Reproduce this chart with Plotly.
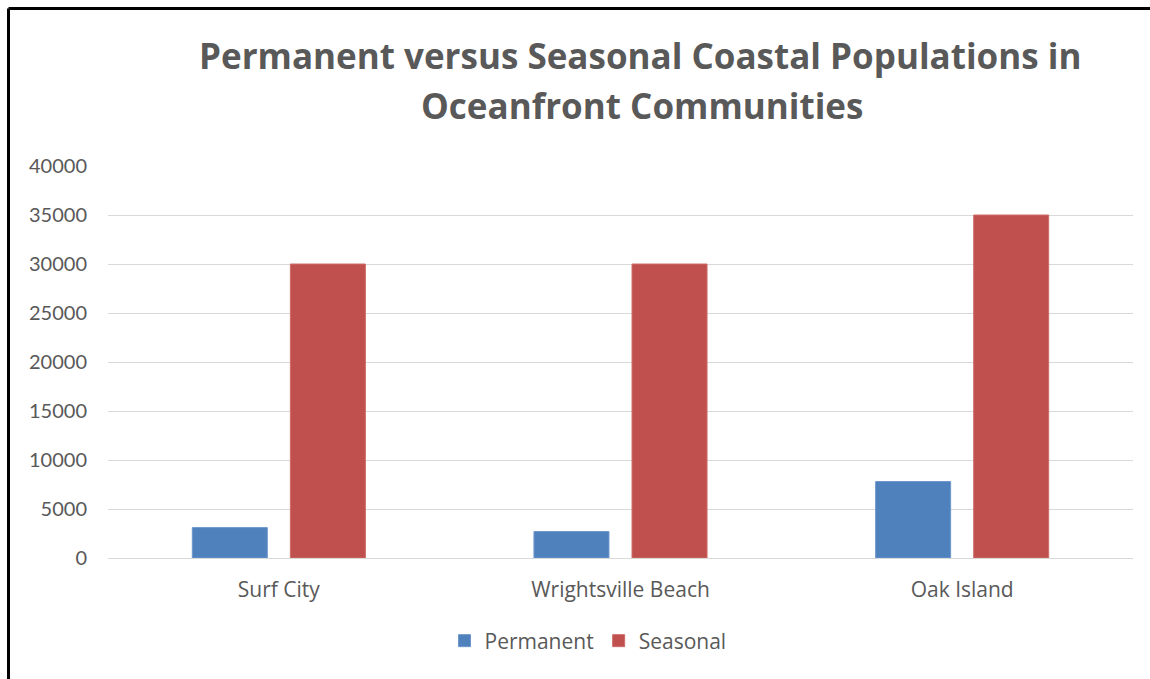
import plotly.graph_objects as go

# Data
communities = ["Surf City", "Wrightsville Beach", "Oak Island"]
permanent = [3100, 2700, 7800]
seasonal = [30000, 30000, 35000]
y_ticks = [0, 5000, 10000, 15000, 20000, 25000, 30000, 35000, 40000]

title_lines = ["Permanent versus Seasonal Coastal Populations in",
               "Oceanfront Communities"]

TEXT = "#595959"
BLUE = "#4F81BD"
RED = "#C0504D"
GRID = "#D9D9D9"

# plot area in pixels
L, R, T, B = 108, 1133, 166, 558
W, H = R - L, B - T


def px_x(x):
    return (x - L) / W


def px_y(y):
    return (B - y) / H


fig = go.Figure()
fig.add_trace(go.Bar(
    name="Permanent", x=communities, y=permanent,
    marker=dict(color=BLUE, line=dict(color="#6E97CC", width=1)),
))
fig.add_trace(go.Bar(
    name="Seasonal", x=communities, y=seasonal,
    marker=dict(color=RED, line=dict(color="#CD6C69", width=1)),
))

fig.update_layout(
    width=1150, height=679,
    margin=dict(l=L, r=1150 - R, t=T, b=679 - B),
    paper_bgcolor="white", plot_bgcolor="white",
    barmode="group", bargap=0.426, bargroupgap=0.235,
    font=dict(family="Open Sans, sans-serif", color=TEXT, size=21),
    showlegend=True,
    legend=dict(
        orientation="h", x=px_x(588), xanchor="center", xref="paper",
        y=px_y(641), yanchor="middle",
        font=dict(family="Open Sans, sans-serif", size=21, color=TEXT),
        traceorder="normal",
    ),
    xaxis=dict(
        showgrid=False, showline=False, ticks="",
        tickfont=dict(family="Open Sans, sans-serif", size=21, color=TEXT),
        ticklabelstandoff=17,
    ),
    yaxis=dict(
        range=[0, 40000], tickvals=y_ticks, ticktext=[str(v) for v in y_ticks],
        showgrid=True, gridcolor=GRID, gridwidth=1,
        zeroline=True, zerolinecolor=GRID, zerolinewidth=1,
        showline=False, ticks="",
        tickfont=dict(family="Lato, sans-serif", size=20, color=TEXT),
        ticklabelstandoff=20,
    ),
    annotations=[
        dict(text="<b>" + title_lines[0] + "</b>",
             xref="paper", yref="paper", x=px_x(640), y=px_y(55),
             xanchor="center", yanchor="middle", showarrow=False,
             font=dict(family="Open Sans, sans-serif", size=35, color=TEXT)),
        dict(text="<b>" + title_lines[1] + "</b>",
             xref="paper", yref="paper", x=px_x(642), y=px_y(105),
             xanchor="center", yanchor="middle", showarrow=False,
             font=dict(family="Open Sans, sans-serif", size=35, color=TEXT)),
    ],
    shapes=[
        # frame lines along the top and left edges
        dict(type="line", xref="paper", yref="paper",
             x0=px_x(8.5), x1=px_x(1150), y0=px_y(8.5), y1=px_y(8.5),
             line=dict(color="black", width=3)),
        dict(type="line", xref="paper", yref="paper",
             x0=px_x(8.5), x1=px_x(8.5), y0=px_y(8.5), y1=px_y(685),
             line=dict(color="black", width=3)),
    ],
)

fig.write_html("out.html")
